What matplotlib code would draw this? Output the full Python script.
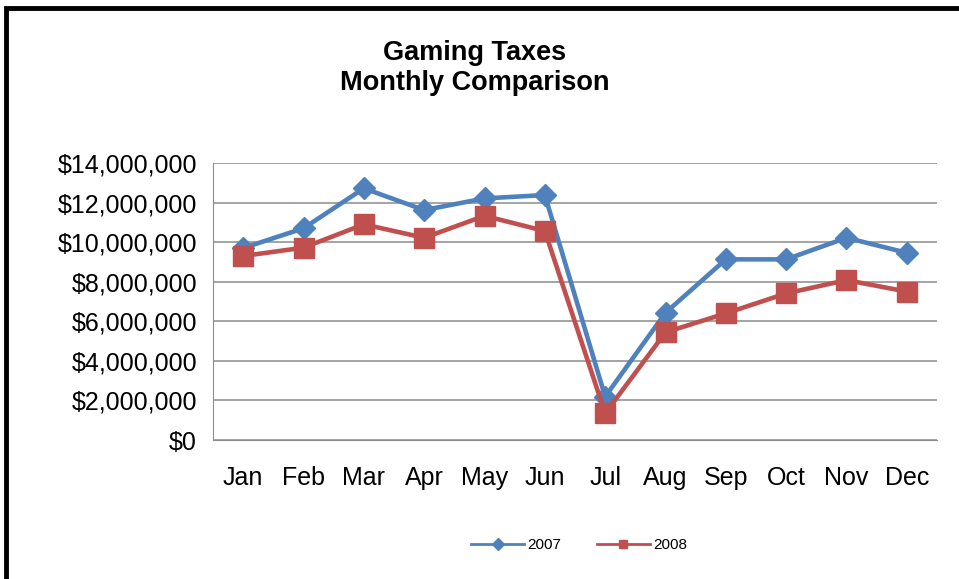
import matplotlib
matplotlib.use('Agg')
import matplotlib.pyplot as plt
from matplotlib.patches import Rectangle
from matplotlib.ticker import FuncFormatter
import numpy as np

months = ["Jan", "Feb", "Mar", "Apr", "May", "Jun", "Jul", "Aug", "Sep", "Oct", "Nov", "Dec"]
taxes_2007 = [9.70e6, 10.70e6, 12.72e6, 11.62e6, 12.21e6, 12.38e6,
              2.19e6, 6.43e6, 9.13e6, 9.13e6, 10.22e6, 9.46e6]
taxes_2008 = [9.30e6, 9.72e6, 10.90e6, 10.22e6, 11.33e6, 10.56e6,
              1.35e6, 5.44e6, 6.40e6, 7.41e6, 8.08e6, 7.50e6]
y_ticks = np.arange(0, 14e6 + 1, 2e6)

plt.rcParams['font.family'] = ['Liberation Sans', 'DejaVu Sans']

fig = plt.figure(figsize=(9.59, 5.79), dpi=100)
fig.patch.set_facecolor('white')

# black border round the chart area (runs off the right and bottom edges)
fig.patches.append(Rectangle((6 / 959, -0.05), 1.2, 1 - 8 / 579 + 0.05,
                             transform=fig.transFigure, fill=False,
                             edgecolor='black', linewidth=3.5))

ax = fig.add_axes([213 / 959, 139 / 579, 724 / 959, 277 / 579])
ind = np.arange(len(months))

blue = '#4F81BD'
red = '#C0504D'
l07, = ax.plot(ind, taxes_2007, color=blue, lw=3.3, marker='D', ms=11,
               label='2007', zorder=3)
l08, = ax.plot(ind, taxes_2008, color=red, lw=3.3, marker='s', ms=14,
               label='2008', zorder=4)

ax.set_xlim(-0.5, 11.5)
ax.set_ylim(0, 14e6)
ax.set_yticks(y_ticks)
ax.yaxis.set_major_formatter(FuncFormatter(lambda v, p: "${:,.0f}".format(v)))
ax.set_xticks(ind)
ax.set_xticklabels(months)
ax.tick_params(axis='both', length=0, labelsize=18)
ax.tick_params(axis='x', pad=19)
ax.tick_params(axis='y', pad=11.5)

ax.grid(axis='y', color='#8c8c8c', lw=1.1)
ax.set_axisbelow(True)
for s in ['top', 'right']:
    ax.spines[s].set_visible(False)
ax.spines['left'].set_color('#8c8c8c')
ax.spines['bottom'].set_color('#8c8c8c')

fig.text(0.495, 1 - 68 / 579, "Gaming Taxes\nMonthly Comparison", ha='center',
         va='center', fontsize=19.5, fontweight='bold', linespacing=1.2)

leg = fig.legend([l07, l08], ['2007', '2008'], loc='center',
                 bbox_to_anchor=(579 / 959, 1 - 545 / 579), ncol=2, frameon=False,
                 fontsize=11, handlelength=3.5, columnspacing=2.3, handletextpad=0.2)
for h in leg.legend_handles:
    h.set_linewidth(2)
    h.set_markersize(6)

fig.savefig('out.png', dpi=100)
